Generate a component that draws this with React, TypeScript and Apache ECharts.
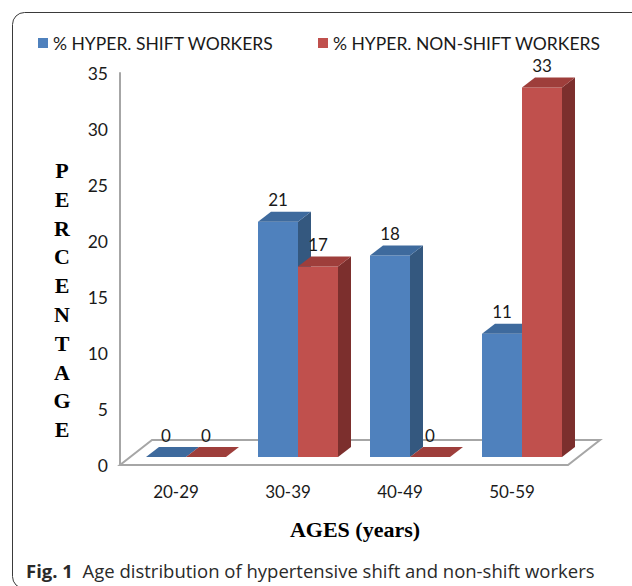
import React, { useEffect, useRef } from "react";
import * as echarts from "echarts";

const categories = ["20-29", "30-39", "40-49", "50-59"];
const shiftWorkers = [0, 21, 18, 11];
const nonShiftWorkers = [0, 17, 0, 33];
const seriesNames = ["% HYPER. SHIFT WORKERS", "% HYPER. NON-SHIFT WORKERS"];
const yTicks = { min: 0, max: 35, interval: 5 };
const yTitleLetters = ["P", "E", "R", "C", "E", "N", "T", "A", "G", "E"];

const BLUE = { front: "#4F81BD", top: "#3E6A9D", side: "#34587F" };
const RED = { front: "#C0504D", top: "#9E3E3B", side: "#7C2F2D" };
const DX = 13;
const DY = -10;
const BW = 40;
const SANS = "Lato, 'Open Sans', sans-serif";
const SERIF = "'Liberation Serif', 'DejaVu Serif', serif";

function barRenderer(which: number, col: { front: string; top: string; side: string }) {
  return (params: any, api: any) => {
    const cat = api.value(0);
    const val = api.value(1);
    const base = api.coord([cat, 0]);
    const tp = api.coord([cat, val]);
    const x0 = which === 0 ? base[0] - BW : base[0];
    const x1 = x0 + BW;
    const yb = base[1];
    const yt = tp[1];
    const children: any[] = [];
    if (val > 0) {
      children.push({
        type: "polygon",
        shape: { points: [[x0, yt], [x1, yt], [x1, yb], [x0, yb]] },
        style: { fill: col.front },
      });
      children.push({
        type: "polygon",
        shape: { points: [[x1, yt], [x1 + DX, yt + DY], [x1 + DX, yb + DY], [x1, yb]] },
        style: { fill: col.side },
      });
    }
    children.push({
      type: "polygon",
      shape: { points: [[x0, yt], [x0 + DX, yt + DY], [x1 + DX, yt + DY], [x1, yt]] },
      style: { fill: col.top },
    });
    children.push({
      type: "text",
      style: {
        text: String(val),
        x: (x0 + x1) / 2,
        y: yt - 22,
        align: "center",
        verticalAlign: "middle",
        fill: "#1a1a1a",
        font: `17px ${SANS}`,
      },
    });
    return { type: "group", children };
  };
}

export default function App() {
  const ref = useRef<HTMLDivElement>(null);
  useEffect(() => {
    if (!ref.current) return;
    const chart = echarts.init(ref.current, undefined, { renderer: "svg" });
    const option: any = {
      animation: false,
      backgroundColor: "#ffffff",
      legend: [
        {
          data: [seriesNames[0]],
          left: 38,
          top: 34,
          padding: 0,
          itemWidth: 10,
          itemHeight: 10,
          icon: "rect",
          textStyle: { fontFamily: SANS, fontSize: 17.5, color: "#1a1a1a" },
        },
        {
          data: [seriesNames[1]],
          left: 318,
          top: 34,
          padding: 0,
          itemWidth: 10,
          itemHeight: 10,
          icon: "rect",
          textStyle: { fontFamily: SANS, fontSize: 17.5, color: "#1a1a1a" },
        },
      ],
      grid: [
        { left: 130, top: 65, width: 448, height: 392 },
        { left: 120, top: 73, width: 448, height: 392 },
      ],
      xAxis: [
        { type: "category", data: categories, gridIndex: 0, show: false },
        {
          type: "category",
          data: categories,
          gridIndex: 1,
          axisLine: { show: false },
          axisTick: { show: false },
          axisLabel: { fontFamily: SANS, fontSize: 17, color: "#1a1a1a", margin: 18 },
        },
      ],
      yAxis: [
        { type: "value", gridIndex: 0, ...yTicks, show: false },
        {
          type: "value",
          gridIndex: 1,
          ...yTicks,
          axisLine: { show: true, lineStyle: { color: "#A6A6A6", width: 2 } },
          axisTick: { show: false },
          splitLine: { show: false },
          axisLabel: { fontFamily: SANS, fontSize: 17.5, color: "#1a1a1a", margin: 12 },
        },
      ],
      graphic: [
        {
          type: "rect",
          shape: { x: 12.5, y: 12.5, width: 640, height: 576, r: 12 },
          style: { fill: "none", stroke: "#3a3a3a", lineWidth: 1 },
          z: -1,
        },
        {
          type: "text",
          style: {
            text: yTitleLetters.join("\n"),
            x: 62,
            y: 156,
            align: "center",
            verticalAlign: "top",
            lineHeight: 28.8,
            font: `bold 22px ${SERIF}`,
            fill: "#000",
          },
        },
        {
          type: "text",
          style: {
            text: "AGES (years)",
            x: 355,
            y: 529,
            align: "center",
            verticalAlign: "middle",
            font: `bold 22px ${SERIF}`,
            fill: "#000",
          },
        },
        {
          type: "text",
          style: {
            text: "{b|Fig. 1}  Age distribution of hypertensive shift and non-shift workers",
            x: 26,
            y: 570,
            align: "left",
            verticalAlign: "middle",
            font: `18.5px 'Open Sans', sans-serif`,
            fill: "#2a2a2a",
            rich: {
              b: { fontWeight: "bold", fontSize: 18.5, fontFamily: "'Open Sans', sans-serif", fill: "#2a2a2a" },
            },
          },
        },
      ],
      series: [
        {
          type: "custom",
          name: "floor",
          xAxisIndex: 1,
          yAxisIndex: 1,
          data: [[0, 0]],
          z: 1,
          renderItem: (params: any) => {
            const cs = params.coordSys;
            const fx = cs.x;
            const fy = cs.y + cs.height;
            const w = cs.width;
            return {
              type: "polygon",
              shape: { points: [[fx, fy], [fx + w, fy], [fx + w + 32, fy - 25], [fx + 32, fy - 25]] },
              style: { fill: "#ffffff", stroke: "#A6A6A6", lineWidth: 2 },
            };
          },
        },
        {
          type: "custom",
          name: seriesNames[0],
          xAxisIndex: 0,
          yAxisIndex: 0,
          itemStyle: { color: BLUE.front },
          encode: { x: 0, y: 1 },
          data: shiftWorkers.map((v, i) => [i, v]),
          z: 2,
          renderItem: barRenderer(0, BLUE),
        },
        {
          type: "custom",
          name: seriesNames[1],
          xAxisIndex: 0,
          yAxisIndex: 0,
          itemStyle: { color: RED.front },
          encode: { x: 0, y: 1 },
          data: nonShiftWorkers.map((v, i) => [i, v]),
          z: 3,
          renderItem: barRenderer(1, RED),
        },
      ],
    };
    chart.setOption(option);
    return () => chart.dispose();
  }, []);
  return (
    <div
      ref={ref}
      style={{ position: "fixed", left: 0, top: 0, width: 632, height: 586 }}
    />
  );
}
